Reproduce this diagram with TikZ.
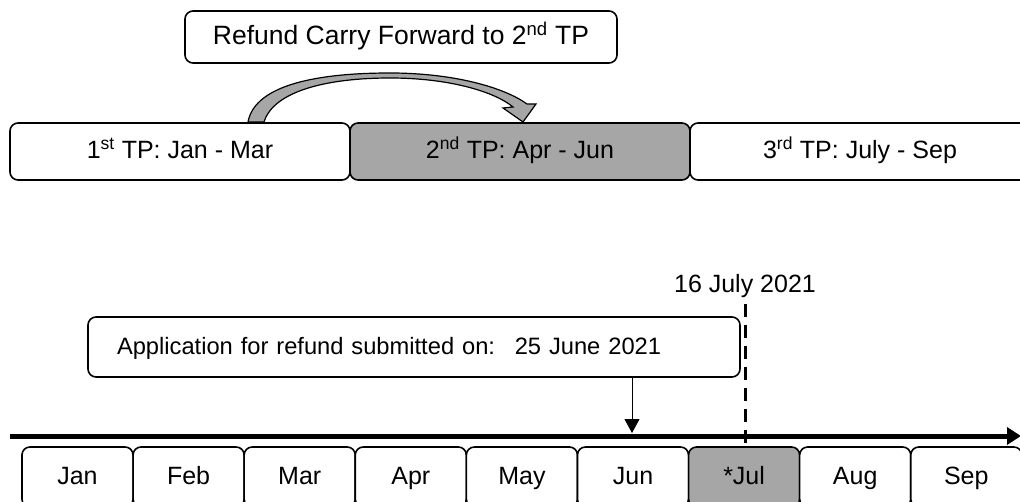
\documentclass[tikz,border=0pt]{standalone}
\usepackage{fontspec}
\setmainfont{Liberation Sans}
\usetikzlibrary{shapes,arrows.meta,positioning}
\definecolor{tpgray}{HTML}{A6A6A6}
\tikzstyle{tpbox} = [draw, rounded corners=8pt, line width=1.6pt, minimum width=340pt, minimum height=57pt, inner sep=0pt, text height=18pt, text depth=3pt]
\tikzstyle{monbox} = [draw, rounded corners=8pt, line width=1.6pt, minimum width=111.1pt, minimum height=60pt, inner sep=0pt, text height=18pt, text depth=3pt]
\tikzstyle{note} = [draw, rounded corners=8pt, line width=1.6pt, inner sep=0pt, text height=18pt, text depth=3pt]
\tikzstyle{line} = [draw]

\begin{document}
\begin{tikzpicture}[x=1pt, y=-1pt, font=\fontsize{25}{30}\selectfont]
			\useasboundingbox (0,0) rectangle (1020,502);
			\node [note, minimum width=432pt, minimum height=52pt, font=\fontsize{26.5}{30}\selectfont] (refund) at (401,37) {Refund Carry Forward to 2\textsuperscript{nd} TP};
			\node [tpbox] (tp1) at (180,151.5) {1\textsuperscript{st} TP: Jan - Mar};
			\node [tpbox, fill=tpgray] (tp2) at (520,151.5) {2\textsuperscript{nd} TP: Apr - Jun};
			\node [tpbox] (tp3) at (860,151.5) {3\textsuperscript{rd} TP: July - Sep};
			
			% carry forward arrow
			\path [line, fill=tpgray, line width=1.2pt] (248,122) .. controls (255,84) and (320,73) .. (390,73) .. controls (455,73) and (505,88) .. (527,104) -- (536,104) -- (523,122) -- (503,108) -- (513,107) .. controls (495,92) and (450,78) .. (390,78) .. controls (330,78) and (274,90) .. (264,122) -- cycle;
			
			\node [note, minimum height=60pt, text width=594pt, inner xsep=29pt, align=left, font=\fontsize{23.7}{28}\selectfont] (app) at (414,347) {Application for refund submitted on:~ 25 June 2021};
			\node [inner sep=0pt] (date) at (745,286) {16 July 2021};
			
			\foreach \m/\f [count=\i] in {Jan/white, Feb/white, Mar/white, Apr/white, May/white, Jun/white, *Jul/tpgray, Aug/white, Sep/white}
				\node [monbox, fill=\f] (m\i) at ({77.5+111.1*(\i-1)},477) {\m};
			
			\coordinate (tstart) at (10,436);
			\coordinate (tend) at (1021,436);
			\coordinate (hit) at (632,433);
			\path [line, line width=5pt, -{Triangle[length=14pt,width=17pt]}] (tstart) -- (tend);
			\path [line, line width=1pt, -{Triangle[length=14pt,width=15pt]}] (hit |- app.south) -- (hit);
			\path [line, line width=3pt, dash pattern=on 13pt off 8pt] ([yshift=-6pt]date.south) -- (date.south |- m7.north);
		\end{tikzpicture}
\end{document}
